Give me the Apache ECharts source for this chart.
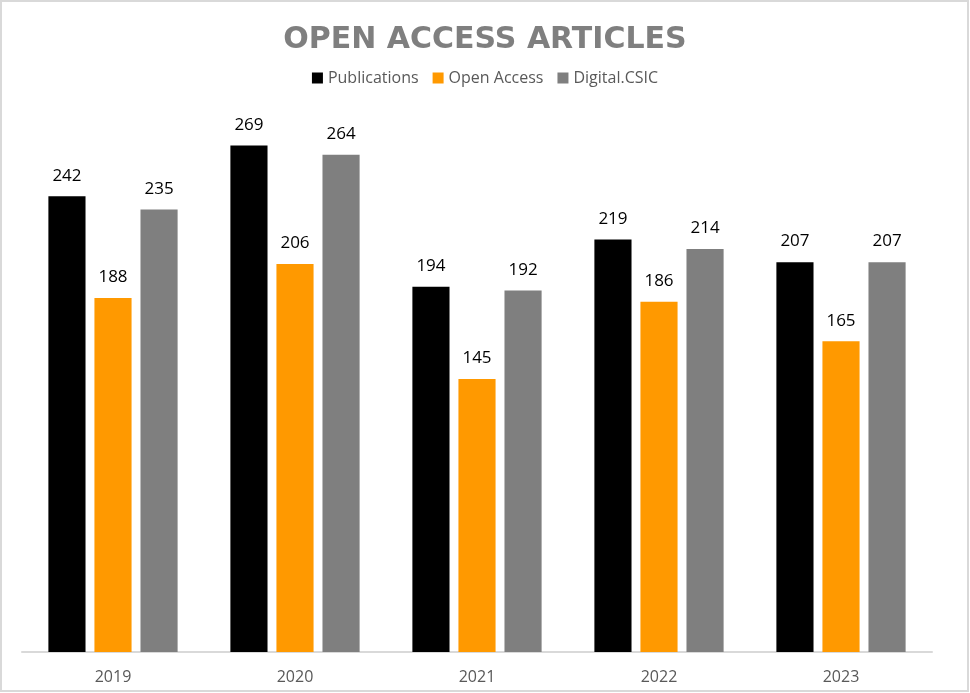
<!DOCTYPE html>
<html>
<head>
<meta charset="utf-8">
<title>Open Access Articles</title>
<script src="https://cdn.jsdelivr.net/npm/echarts@6/dist/echarts.min.js"></script>
<style>
  html, body { margin: 0; padding: 0; background: #fff; }
</style>
</head>
<body>
<div id="main" style="width: 970px; height: 693px;"></div>
<script type="text/javascript">
var years = ['2019', '2020', '2021', '2022', '2023'];
var publications = [242, 269, 194, 219, 207];
var openAccess = [188, 206, 145, 186, 165];
var digitalCsic = [235, 264, 192, 214, 207];

var myChart = echarts.init(document.getElementById('main'));

var labelStyle = {
  show: true,
  position: 'top',
  distance: 12,
  color: '#000',
  fontSize: 17,
  fontFamily: 'Open Sans'
};

var option = {
  animation: false,
  title: {
    text: 'OPEN ACCESS ARTICLES',
    left: 'center',
    top: 20,
    textStyle: {
      color: '#7f7f7f',
      fontSize: 30,
      fontWeight: 'bold',
      fontFamily: 'DejaVu Sans'
    }
  },
  legend: {
    top: 65,
    left: 'center',
    itemWidth: 11,
    itemHeight: 11,
    itemGap: 14,
    icon: 'rect',
    textStyle: { color: '#595959', fontSize: 16, fontFamily: 'Open Sans' },
    data: ['Publications', 'Open Access', 'Digital.CSIC']
  },
  graphic: [{
    type: 'rect',
    shape: { x: 1, y: 1, width: 967, height: 690 },
    style: { fill: 'none', stroke: '#d9d9d9', lineWidth: 2 },
    silent: true
  }],
  grid: { left: 22, right: 38, top: 87, bottom: 41 },
  xAxis: {
    type: 'category',
    data: years,
    axisLine: { lineStyle: { color: '#d9d9d9', width: 2 } },
    axisTick: { show: false },
    axisLabel: { color: '#595959', fontSize: 16, margin: 17, fontFamily: 'Open Sans' }
  },
  yAxis: {
    type: 'value',
    min: 0,
    max: 300,
    show: false,
    splitLine: { show: false }
  },
  series: [{
    name: 'Publications',
    type: 'bar',
    data: publications,
    barGap: '24%',
    barCategoryGap: '29%',
    itemStyle: { color: '#000000' },
    label: labelStyle
  }, {
    name: 'Open Access',
    type: 'bar',
    data: openAccess,
    itemStyle: { color: '#ff9900' },
    label: labelStyle
  }, {
    name: 'Digital.CSIC',
    type: 'bar',
    data: digitalCsic,
    itemStyle: { color: '#7f7f7f' },
    label: labelStyle
  }]
};

myChart.setOption(option);
</script>
</body>
</html>
